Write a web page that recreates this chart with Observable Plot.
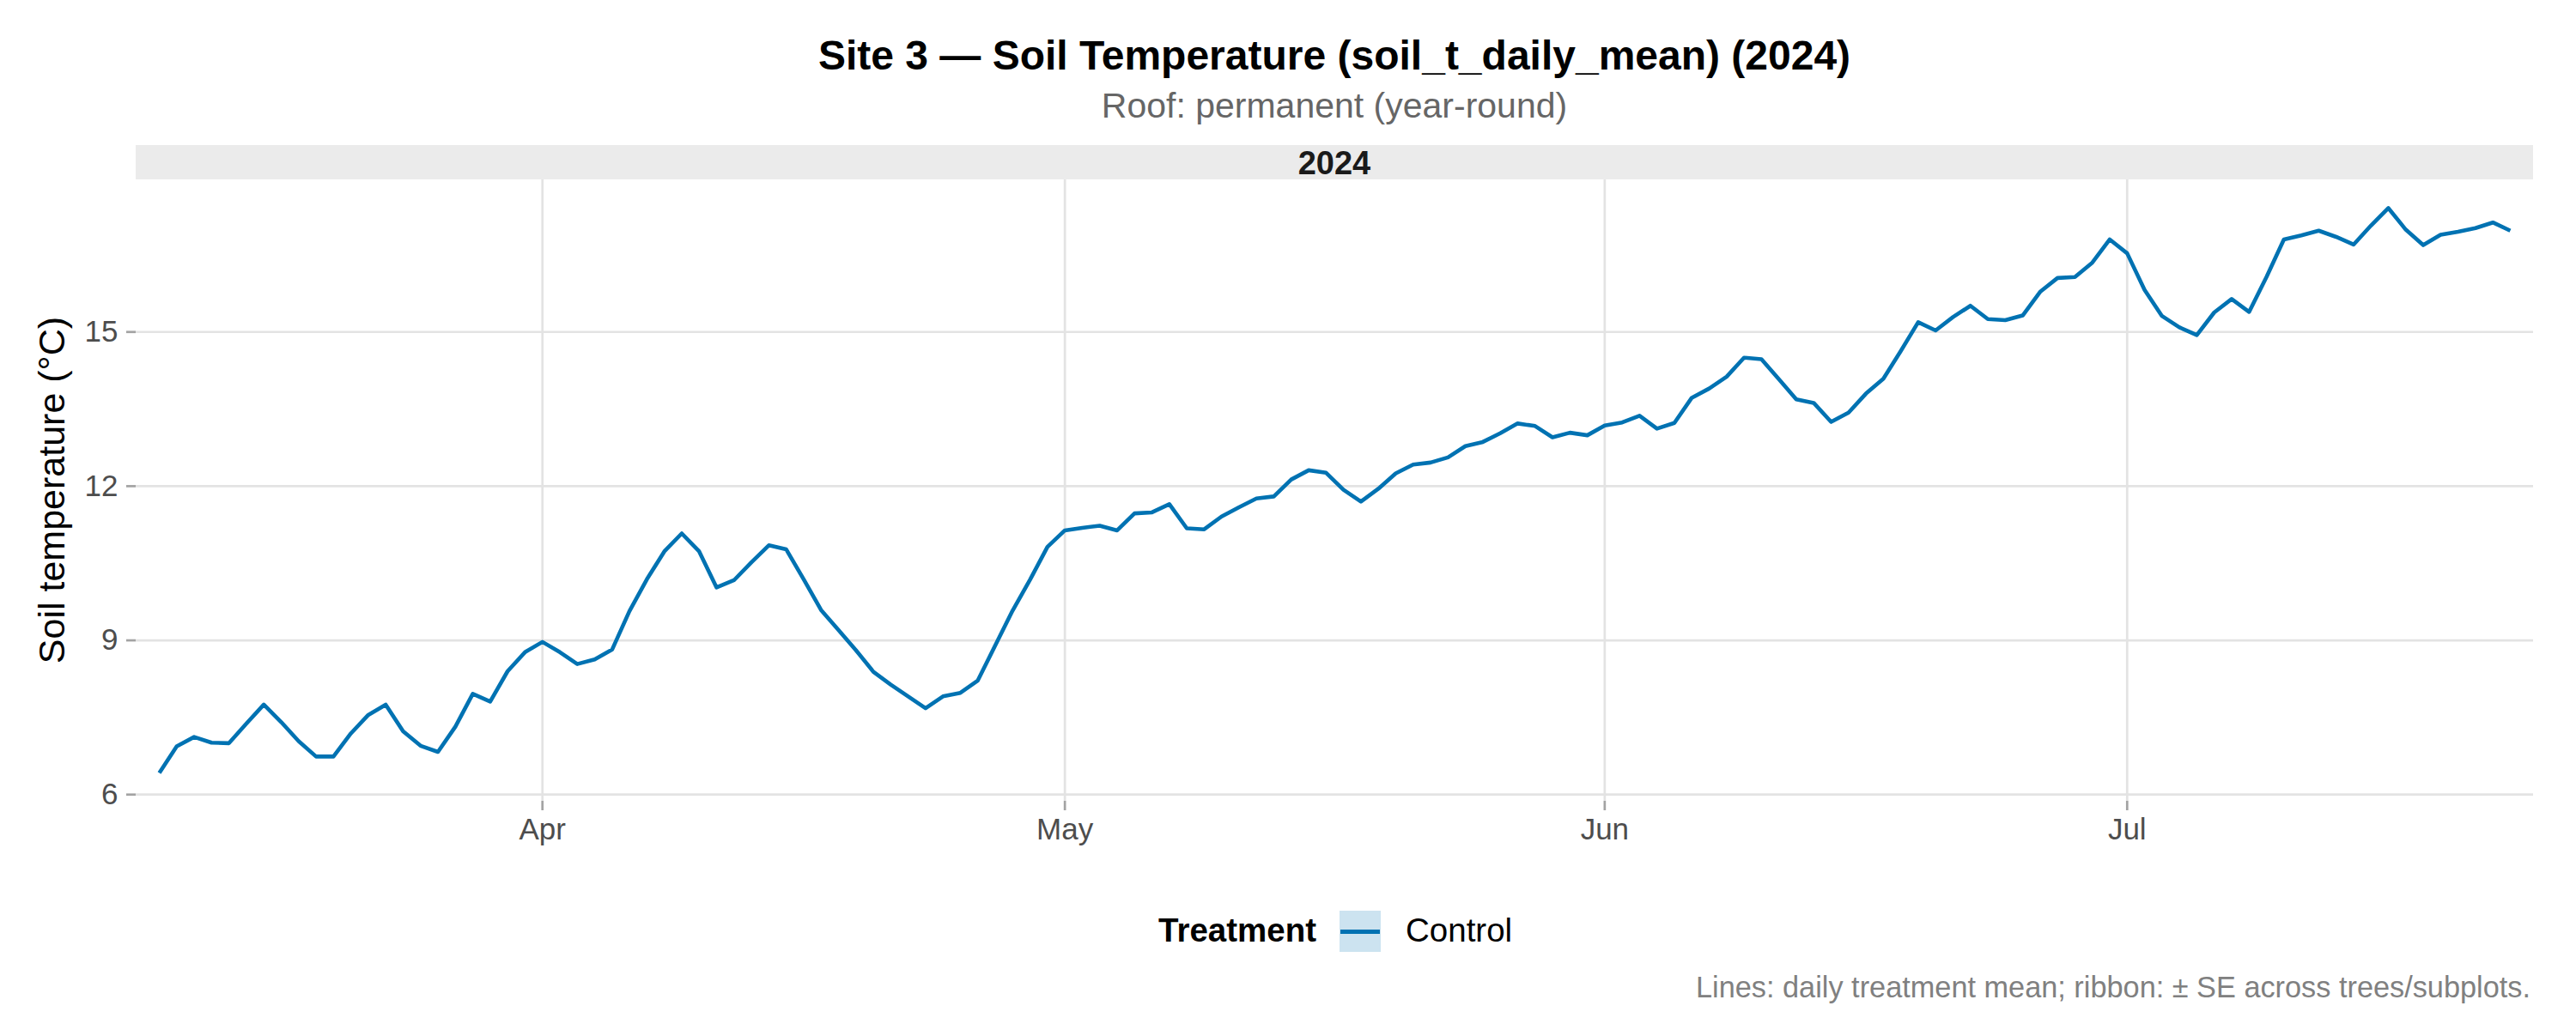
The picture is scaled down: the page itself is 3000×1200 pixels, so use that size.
<!DOCTYPE html>
<html>
<head>
<meta charset="utf-8">
<script src="https://cdn.jsdelivr.net/npm/d3@7"></script>
<script src="https://cdn.jsdelivr.net/npm/@observablehq/plot@0.6"></script>
<style>
  html, body { margin: 0; padding: 0; background: #ffffff; }
  body { width: 3000px; height: 1200px; position: relative; overflow: hidden;
         font-family: "Liberation Sans", Arial, Helvetica, sans-serif; }
  .abs { position: absolute; white-space: nowrap; line-height: 1; }
</style>
</head>
<body>
<div id="root"></div>
<script>
// ---- Data ----
const titleText = "Site 3 \u2014 Soil Temperature (soil_t_daily_mean) (2024)";
const subtitleText = "Roof: permanent (year-round)";
const stripText = "2024";
const yLabel = "Soil temperature (\u00B0C)";
const legendTitle = "Treatment";
const seriesName = "Control";
const captionText = "Lines: daily treatment mean; ribbon: \u00B1 SE across trees/subplots.";

// daily means, one array per month, starting at the given date
const marchStart = "2024-03-10";
const marchValues = [6.42, 6.94, 7.12, 7.01, 7.00, 7.38, 7.75, 7.41, 7.04, 6.74, 6.74,
  7.19, 7.55, 7.75, 7.23, 6.95, 6.83, 7.32, 7.96, 7.81, 8.40, 8.77];
const aprilStart = "2024-04-01";
const aprilValues = [8.97, 8.77, 8.54, 8.63, 8.82, 9.57, 10.19, 10.73, 11.08, 10.73,
  10.03, 10.17, 10.52, 10.85, 10.77, 10.19, 9.59, 9.20, 8.81, 8.39,
  8.14, 7.91, 7.68, 7.91, 7.98, 8.22, 8.90, 9.58, 10.18, 10.82];
const mayStart = "2024-05-01";
const mayValues = [11.14, 11.19, 11.23, 11.14, 11.47, 11.49, 11.65, 11.18, 11.16, 11.41,
  11.59, 11.76, 11.80, 12.13, 12.31, 12.26, 11.93, 11.70, 11.95, 12.25,
  12.42, 12.46, 12.56, 12.78, 12.86, 13.03, 13.22, 13.17, 12.95, 13.04, 12.99];
const juneStart = "2024-06-01";
const juneValues = [13.18, 13.24, 13.37, 13.12, 13.23, 13.72, 13.90, 14.13, 14.50, 14.47,
  14.08, 13.69, 13.62, 13.25, 13.43, 13.80, 14.09, 14.63, 15.19, 15.03,
  15.29, 15.51, 15.25, 15.23, 15.32, 15.78, 16.05, 16.07, 16.35, 16.80];
const julyStart = "2024-07-01";
const julyValues = [16.53, 15.82, 15.31, 15.09, 14.94, 15.38, 15.64, 15.39, 16.07, 16.80,
  16.88, 16.97, 16.85, 16.70, 17.07, 17.41, 16.99, 16.69, 16.89, 16.95,
  17.02, 17.13, 16.97];

const yTicks = [6, 9, 12, 15];
const monthTicks = ["2024-04-01", "2024-05-01", "2024-06-01", "2024-07-01"];
const xDomain = ["2024-03-08T16:00Z", "2024-07-24T08:00Z"];
const yDomain = [5.87, 17.96];

// ---- Build table ----
const months = [[marchStart, marchValues], [aprilStart, aprilValues], [mayStart, mayValues],
                [juneStart, juneValues], [julyStart, julyValues]];
const data = months.flatMap(([start, vals]) => {
  const s = new Date(start + "T00:00Z");
  return vals.map((v, i) => ({date: d3.utcDay.offset(s, i), value: v, treatment: seriesName}));
});
const tickDates = monthTicks.map(d => new Date(d + "T00:00Z"));

const FONT = "'Liberation Sans', Arial, Helvetica, sans-serif";
const BLUE = "#0072B2";
const GRID = "#e3e3e3";

const PANEL_LEFT = 158, PANEL_RIGHT = 2950, SVG_TOP = 209;

const chart = Plot.plot({
  width: 3000,
  height: 791,
  marginTop: 0,
  marginBottom: 67,
  marginLeft: PANEL_LEFT,
  marginRight: 3000 - PANEL_RIGHT,
  style: {fontFamily: FONT, fontSize: "35px", background: "transparent", overflow: "visible"},
  x: {type: "utc", domain: xDomain.map(d => new Date(d))},
  y: {domain: yDomain},
  marks: [
    Plot.gridY(yTicks, {stroke: GRID, strokeOpacity: 1, strokeWidth: 2.7}),
    Plot.gridX(tickDates, {stroke: GRID, strokeOpacity: 1, strokeWidth: 2.7}),
    Plot.axisY(yTicks, {tickSize: 11, tickPadding: 10, tickFormat: d => String(d),
      stroke: "#a3a3a3", strokeWidth: 2.7, fill: "#4d4d4d", label: null}),
    Plot.axisX(tickDates, {tickSize: 11, tickPadding: 9, tickFormat: d3.utcFormat("%b"),
      stroke: "#a3a3a3", strokeWidth: 2.7, fill: "#4d4d4d", label: null}),
    Plot.line(data, {x: "date", y: "value", stroke: BLUE, strokeWidth: 4.6,
      strokeLinejoin: "round", strokeLinecap: "butt"})
  ]
});

const root = document.getElementById("root");
function addText(text, css) {
  const el = document.createElement("div");
  el.className = "abs";
  el.textContent = text;
  Object.assign(el.style, css);
  root.appendChild(el);
  return el;
}

// Title & subtitle (centered over the panel)
addText(titleText, {left: PANEL_LEFT + "px", width: (PANEL_RIGHT - PANEL_LEFT) + "px", textAlign: "center",
  top: "41px", fontSize: "48px", fontWeight: "bold", color: "#000"});
addText(subtitleText, {left: PANEL_LEFT + "px", width: (PANEL_RIGHT - PANEL_LEFT) + "px", textAlign: "center",
  top: "103px", fontSize: "41px", color: "#666666"});

// Facet strip
const strip = document.createElement("div");
Object.assign(strip.style, {position: "absolute", left: PANEL_LEFT + "px", width: (PANEL_RIGHT - PANEL_LEFT) + "px",
  top: "169px", height: "40px", background: "#ebebeb"});
root.appendChild(strip);
addText(stripText, {left: PANEL_LEFT + "px", width: (PANEL_RIGHT - PANEL_LEFT) + "px", textAlign: "center",
  top: "171px", fontSize: "38px", fontWeight: "bold", color: "#1a1a1a"});

// Chart SVG
const holder = document.createElement("div");
Object.assign(holder.style, {position: "absolute", left: "0px", top: SVG_TOP + "px"});
holder.appendChild(chart);
root.appendChild(holder);

// Y-axis title (rotated)
addText(yLabel, {left: "60px", top: "571px", fontSize: "43px", color: "#000",
  transform: "translate(-50%, -50%) rotate(-90deg)"});

// Legend
addText(legendTitle, {left: "1349px", top: "1065px", fontSize: "38.5px", fontWeight: "bold", color: "#000"});
const key = document.createElement("div");
Object.assign(key.style, {position: "absolute", left: "1560px", top: "1061px", width: "48px", height: "48px",
  background: "#cce3f0"});
const keyLine = document.createElement("div");
Object.assign(keyLine.style, {position: "absolute", left: "1px", right: "1px", top: "21.5px", height: "5px",
  background: BLUE});
key.appendChild(keyLine);
root.appendChild(key);
addText(seriesName, {left: "1637px", top: "1065px", fontSize: "38.5px", color: "#000"});

// Caption (right aligned to panel)
addText(captionText, {right: (3000 - 2947) + "px", top: "1133px", fontSize: "34.3px", color: "#808080"});
</script>
</body>
</html>
